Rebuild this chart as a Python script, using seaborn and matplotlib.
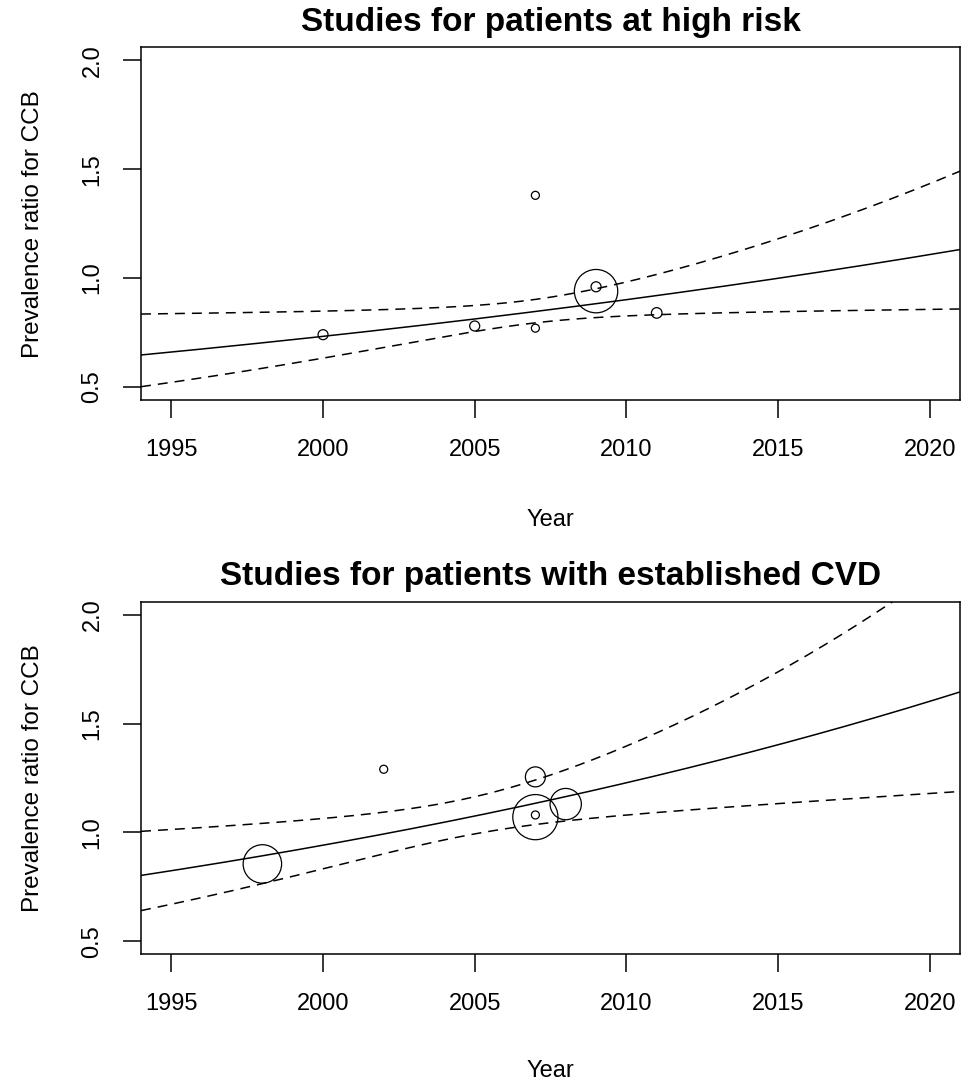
import numpy as np
import pandas as pd
import matplotlib
matplotlib.use("Agg")
import matplotlib.pyplot as plt
import seaborn as sns

# Study-level prevalence ratios (CCB) by publication year, with relative study weights
high_year = [2000, 2005, 2007, 2007, 2009, 2009, 2011]
high_pr = [0.74, 0.78, 1.38, 0.77, 0.94, 0.96, 0.84]
high_weight = [25, 25, 16, 16, 470, 25, 28]

cvd_year = [1998, 2002, 2007, 2007, 2007, 2008]
cvd_pr = [0.855, 1.29, 1.255, 1.07, 1.08, 1.13]
cvd_weight = [370, 16, 100, 510, 16, 245]

# Meta-regression of log(PR) on year: centre year, intercept, slope and their SEs
high_fit = dict(center=2006.93, b0=-0.168, b1=0.0207, se0=0.0324, se1=0.00975)
cvd_fit = dict(center=2004.8, b0=0.067, b1=0.0266, se0=0.0404, se1=0.00995)

titles = ["Studies for patients at high risk", "Studies for patients with established CVD"]
x_ticks = [1995, 2000, 2005, 2010, 2015, 2020]
y_ticks = [0.5, 1.0, 1.5, 2.0]
x_range = (1994, 2021)
y_range = (0.44, 2.06)

sns.set_style("ticks")
plt.rcParams["font.family"] = ["Liberation Sans", "DejaVu Sans"]
plt.rcParams["text.color"] = "black"
plt.rcParams["axes.labelcolor"] = "black"
plt.rcParams["axes.linewidth"] = 1.1
plt.rcParams["xtick.major.width"] = 1.1
plt.rcParams["ytick.major.width"] = 1.1
plt.rcParams["xtick.major.size"] = 13
plt.rcParams["ytick.major.size"] = 13
plt.rcParams["xtick.color"] = "black"
plt.rcParams["ytick.color"] = "black"
plt.rcParams["xtick.labelcolor"] = "black"
plt.rcParams["ytick.labelcolor"] = "black"
plt.rcParams["axes.edgecolor"] = "black"

fig = plt.figure(figsize=(9.68, 10.87), dpi=100)
ax_top = fig.add_axes([0.1457, 0.6320, 0.8461, 0.3245])
ax_bot = fig.add_axes([0.1457, 0.1221, 0.8461, 0.3244])

panels = [
    (ax_top, high_year, high_pr, high_weight, high_fit, titles[0], -0.34),
    (ax_bot, cvd_year, cvd_pr, cvd_weight, cvd_fit, titles[1], -0.332),
]

for ax, yrs, prs, wts, fit, title, xlab_y in panels:
    grid = np.linspace(x_range[0], x_range[1], 300)
    d = grid - fit["center"]
    pred = fit["b0"] + fit["b1"] * d
    se = np.sqrt(fit["se0"] ** 2 + (fit["se1"] * d) ** 2)
    curves = pd.DataFrame({
        "year": grid,
        "fit": np.exp(pred),
        "lower": np.exp(pred - 1.96 * se),
        "upper": np.exp(pred + 1.96 * se),
    })
    sns.lineplot(data=curves, x="year", y="fit", ax=ax, color="black", lw=1.1)
    for col in ["lower", "upper"]:
        sns.lineplot(data=curves, x="year", y=col, ax=ax, color="black", lw=1.1,
                     dashes=False, linestyle=(0, (6.5, 4.6)))

    pts = pd.DataFrame({"year": yrs, "pr": prs, "weight": wts})
    sns.scatterplot(data=pts, x="year", y="pr", size="weight", sizes=(0, 1244),
                    size_norm=(0, 600), legend=False, ax=ax, marker="o", zorder=3)
    coll = ax.collections[-1]
    coll.set_facecolor("none")
    coll.set_edgecolor("black")
    coll.set_linewidth(0.9)

    ax.set_xlim(*x_range)
    ax.set_ylim(*y_range)
    ax.set_xticks(x_ticks)
    ax.set_yticks(y_ticks)
    ax.set_xticklabels([str(v) for v in x_ticks], fontsize=17)
    ax.set_yticklabels([f"{v:.1f}" for v in y_ticks], fontsize=17, rotation=90, va="center")
    ax.tick_params(axis="x", pad=15)
    ax.tick_params(axis="y", pad=14)
    ax.set_title(title, fontsize=24, fontweight="bold", pad=12, color="black")
    ax.set_xlabel("Year", fontsize=17)
    ax.set_ylabel("Prevalence ratio for CCB", fontsize=17.5)
    ax.xaxis.label.set_va("center")
    ax.yaxis.label.set_va("center")
    ax.xaxis.set_label_coords(0.5, xlab_y)
    ax.yaxis.set_label_coords(-0.132, 0.5)
    for sp in ax.spines.values():
        sp.set_visible(True)

fig.savefig("out.png", dpi=100, facecolor="white")
